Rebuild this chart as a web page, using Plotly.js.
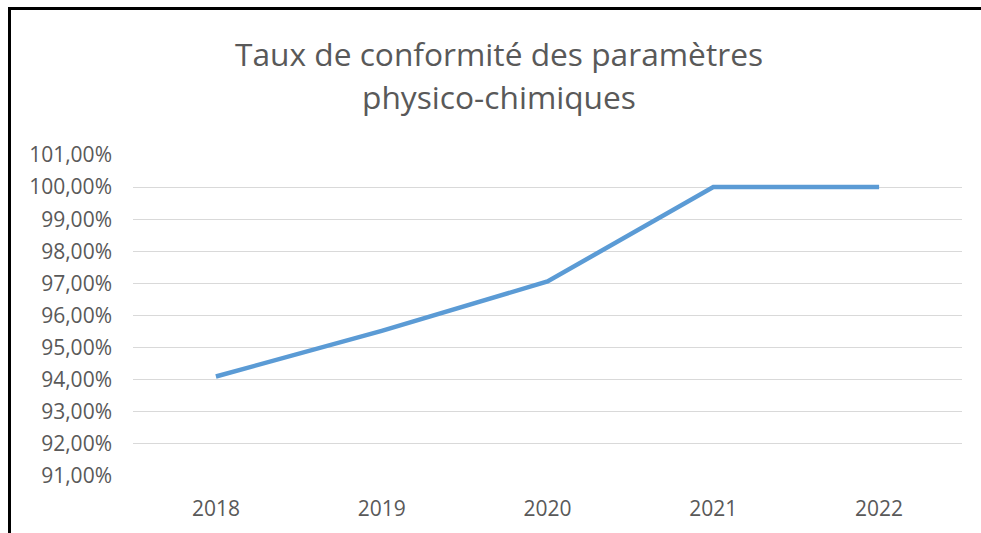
<!DOCTYPE html>
<html>
<head>
<meta charset="utf-8">
<script src="https://cdn.plot.ly/plotly-3.0.1.min.js"></script>
<style>
  html, body { margin: 0; padding: 0; background: #ffffff; }
  #chart { position: absolute; left: 0; top: 0; width: 981px; height: 533px; }
  #frame { position: absolute; left: 8px; top: 7px; width: 980px; height: 540px;
           border-left: 3px solid #000; border-top: 3px solid #000; pointer-events: none; }
</style>
</head>
<body>
<div id="chart"></div>
<div id="frame"></div>
<script>
const years = ["2018", "2019", "2020", "2021", "2022"];
const tauxConformite = [0.9410, 0.9552, 0.9706, 1.0000, 1.0000];
const yTickValues = [0.91, 0.92, 0.93, 0.94, 0.95, 0.96, 0.97, 0.98, 0.99, 1.00, 1.01];
const titleLine1 = "Taux de conformité des paramètres";
const titleLine2 = "physico-chimiques";

const FONT = "'Open Sans', Lato, sans-serif";

const trace = {
  type: "scatter",
  mode: "lines",
  x: years,
  y: tauxConformite,
  line: { color: "#5B9BD5", width: 4.5 },
  hoverinfo: "skip"
};

const layout = {
  width: 981,
  height: 533,
  paper_bgcolor: "#ffffff",
  plot_bgcolor: "#ffffff",
  separators: ",.",
  showlegend: false,
  margin: { l: 133, r: 19, t: 155, b: 57 },
  title: {
    text: "<span style='font-size:31.7px'>" + titleLine1 + "</span><br><span style='font-size:31.7px'>" + titleLine2 + "</span>",
    font: { family: FONT, size: 33, color: "#595959" },
    x: 499 / 981,
    xanchor: "center",
    y: 1 - 66 / 533,
    yanchor: "middle"
  },
  xaxis: {
    type: "category",
    range: [-0.5, 4.5],
    showgrid: false,
    zeroline: false,
    showline: false,
    ticks: "",
    tickfont: { family: FONT, size: 21, color: "#595959" },
    ticklabelstandoff: 18
  },
  yaxis: {
    range: [0.91, 1.01],
    tickvals: yTickValues,
    tickformat: ".2%",
    showgrid: true,
    gridcolor: "#d9d9d9",
    gridwidth: 1,
    zeroline: false,
    showline: false,
    ticks: "",
    tickfont: { family: FONT, size: 21, color: "#595959" },
    ticklabelstandoff: 20
  }
};

Plotly.newPlot("chart", [trace], layout, { staticPlot: true, displayModeBar: false });
</script>
</body>
</html>
